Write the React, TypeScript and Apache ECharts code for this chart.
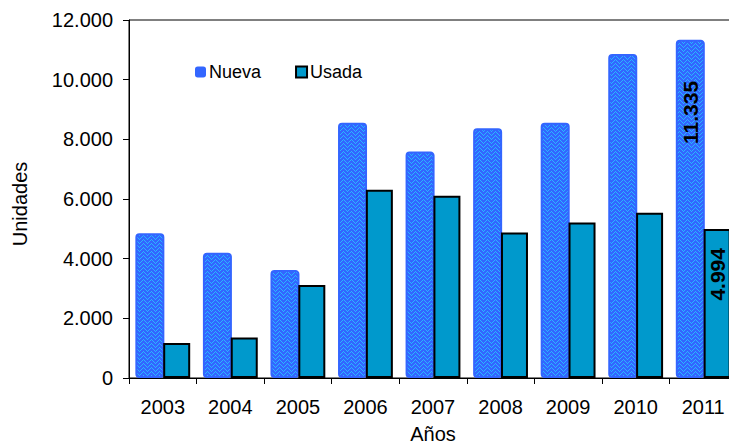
import React, { useEffect, useRef } from "react";
import * as echarts from "echarts";

const years = ["2003", "2004", "2005", "2006", "2007", "2008", "2009", "2010", "2011"];
const nueva = [4850, 4200, 3620, 8560, 7590, 8370, 8560, 10860, 11335];
const usada = [1170, 1360, 3120, 6310, 6110, 4880, 5210, 5540, 4994];
const yTicks = [0, 2000, 4000, 6000, 8000, 10000, 12000];

function makePattern(): string {
  const c = document.createElement("canvas");
  c.width = 8;
  c.height = 8;
  const ctx = c.getContext("2d")!;
  ctx.fillStyle = "#3366FF";
  ctx.fillRect(0, 0, 8, 8);
  ctx.fillStyle = "#29B6FF";
  const rows = [
    "10000010",
    "01000100",
    "00101000",
    "00010001",
    "10000010",
    "01000100",
    "00101000",
    "00010001",
  ];
  rows.forEach((r, y) =>
    r.split("").forEach((ch, x) => {
      if (ch === "1") ctx.fillRect(x, y, 1, 1);
    })
  );
  return c.toDataURL();
}

const fmt = (v: number) => v.toLocaleString("de-DE");

export default function App() {
  const ref = useRef<HTMLDivElement>(null);
  useEffect(() => {
    if (!ref.current) return;
    const chart = echarts.init(ref.current, undefined, { renderer: "svg" });
    const pattern = { image: makePattern(), repeat: "repeat", imageWidth: 8, imageHeight: 8 };
    const font = "Liberation Sans, Arial, sans-serif";
    chart.setOption({
      animation: false,
      textStyle: { fontFamily: font },
      grid: {
        left: 129,
        right: -8,
        top: 20,
        bottom: 67,
        show: true,
        borderColor: "#000",
        borderWidth: 1,
        containLabel: false,
        outerBoundsMode: "none",
      },
      legend: {
        left: 190,
        top: 58,
        itemWidth: 11,
        itemHeight: 11,
        itemGap: 34,
        textStyle: { fontSize: 18, color: "#000", fontFamily: font, padding: [0, 0, 0, -2] },
        data: [
          { name: "Nueva", icon: "roundRect", itemStyle: { color: "#3366FF", borderWidth: 0 } },
          { name: "Usada", icon: "rect", itemStyle: { color: "#0099CC", borderColor: "#000", borderWidth: 2 } },
        ],
      },
      xAxis: {
        type: "category",
        data: years,
        name: "Años",
        nameLocation: "middle",
        nameGap: 46,
        nameTextStyle: { fontSize: 20, color: "#000", fontFamily: font },
        axisLine: { lineStyle: { color: "#000", width: 1 } },
        axisTick: { show: true, length: 6, lineStyle: { color: "#000" } },
        axisLabel: { fontSize: 20, color: "#000", margin: 19, fontFamily: font },
      },
      yAxis: {
        type: "value",
        min: 0,
        max: 12000,
        interval: 2000,
        name: "Unidades",
        nameLocation: "middle",
        nameGap: 99,
        nameTextStyle: { fontSize: 20, color: "#000", fontFamily: font, padding: [0, 0, 0, -10] },
        axisLine: { show: true, lineStyle: { color: "#000", width: 1 } },
        axisTick: { show: true, length: 6, lineStyle: { color: "#000" } },
        splitLine: { show: false },
        axisLabel: {
          fontSize: 20,
          color: "#000",
          margin: 16,
          fontFamily: font,
          formatter: (v: number) => (yTicks.includes(v) ? fmt(v) : ""),
        },
      },
      series: [
        {
          name: "Nueva",
          type: "bar",
          barWidth: 29,
          barGap: "-4%",
          itemStyle: {
            color: pattern,
            borderColor: "#3366FF",
            borderWidth: 2,
            borderRadius: 3,
          },
          data: nueva.map((v, i) =>
            i === nueva.length - 1
              ? {
                  value: v,
                  label: {
                    show: true,
                    position: "insideTop",
                    rotate: 90,
                    align: "right",
                    verticalAlign: "middle",
                    distance: 41,
                    fontSize: 21,
                    fontWeight: "bold",
                    color: "#000",
                    fontFamily: font,
                    formatter: () => fmt(v),
                  },
                }
              : v
          ),
        },
        {
          name: "Usada",
          type: "bar",
          barWidth: 27,
          itemStyle: { color: "#0099CC", borderColor: "#000", borderWidth: 2 },
          data: usada.map((v, i) =>
            i === usada.length - 1
              ? {
                  value: v,
                  label: {
                    show: true,
                    position: "insideTop",
                    rotate: 90,
                    align: "right",
                    verticalAlign: "middle",
                    distance: 19,
                    fontSize: 21,
                    fontWeight: "bold",
                    color: "#000",
                    fontFamily: font,
                    formatter: () => fmt(v),
                  },
                }
              : v
          ),
        },
      ],
    });
    return () => chart.dispose();
  }, []);
  return (
    <div
      ref={ref}
      style={{ position: "fixed", left: 0, top: 0, width: 729, height: 445, background: "#fff" }}
    />
  );
}
